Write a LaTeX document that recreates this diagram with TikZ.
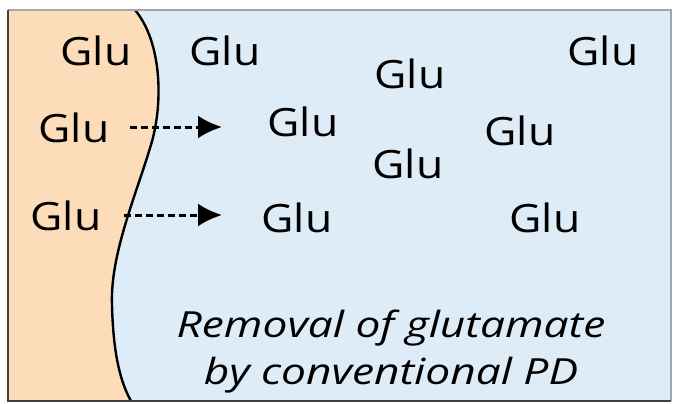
\documentclass[tikz,border=0pt]{standalone}
\usepackage{fontspec}
\newfontfamily\glufont[FakeStretch=1.14]{Open Sans}
\newfontfamily\notefont[FakeStretch=1.23]{Open Sans}
\usetikzlibrary{arrows.meta}

\definecolor{cellfill}{RGB}{253,220,186}
\definecolor{spacefill}{RGB}{222,236,248}

\begin{document}
\begin{tikzpicture}[x=1pt, y=-1pt,
    glu/.style={inner sep=0pt, font=\glufont\fontsize{39}{42}\selectfont},
    caption/.style={inner sep=0pt, align=center, font=\notefont\itshape\fontsize{36}{47}\selectfont},
    transport/.style={line width=3pt, dash pattern=on 7pt off 4pt, -{Latex[length=24pt, width=23pt]}}
]
\useasboundingbox (0,0) rectangle (677,404);

% Background
\fill[spacefill] (8,10) rectangle (671,401);
\fill[cellfill] (8,10) -- (135,10) .. controls (162,42) and (164,105) .. (150,148)
    .. controls (136,195) and (110,255) .. (112,305)
    .. controls (113,345) and (118,378) .. (131,401) -- (8,401) -- cycle;
\draw[line width=2.4pt] (135,10) .. controls (162,42) and (164,105) .. (150,148)
    .. controls (136,195) and (110,255) .. (112,305)
    .. controls (113,345) and (118,378) .. (131,401);

% Frame
\draw[gray!70, line width=1.2pt] (8,10) -- (671,10) -- (671,401);
\draw[black!75, line width=1.8pt] (671,401) -- (8,401) -- (8,10);

% Glutamate in the cell
\node[glu] (glua) at (96,51) {Glu};
\node[glu] (glub) at (74,128) {Glu};
\node[glu] (gluc) at (66,216) {Glu};

% Glutamate outside
\node[glu] (glud) at (225,51) {Glu};
\node[glu] (glue) at (410,74) {Glu};
\node[glu] (gluf) at (603,51) {Glu};
\node[glu] (glug) at (303,122) {Glu};
\node[glu] (gluh) at (520,131) {Glu};
\node[glu] (glui) at (408,164) {Glu};
\node[glu] (gluj) at (297,218) {Glu};
\node[glu] (gluk) at (545,218) {Glu};

% Transport
\coordinate (endb) at (222,127);
\coordinate (endc) at (222,215);
\draw[transport] (glub.east |- endb) ++(20,0) -- (endb);
\draw[transport] (gluc.east |- endc) ++(22,0) -- (endc);

% Caption
\node[caption] (note) at (391,352) {Removal of glutamate\\by conventional PD};

\end{tikzpicture}
\end{document}
